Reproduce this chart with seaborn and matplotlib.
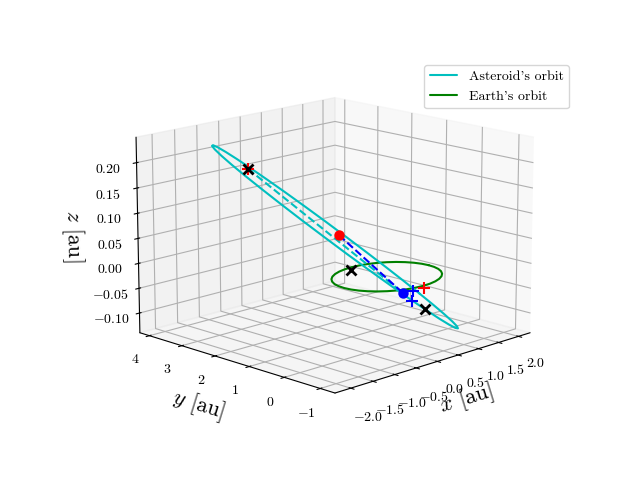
import seaborn as sns
import matplotlib.pyplot as plt

# Orbits (au)
ast_x = [2.05, 2.019, 1.926, 1.775, 1.57, 1.318, 1.025, 0.701, 0.356, 0.0, -0.356, -0.701, -1.025, -1.318, -1.57, -1.775, -1.926, -2.019, -2.05,
         -2.019, -1.926, -1.775, -1.57, -1.318, -1.025, -0.701, -0.356, 0.0, 0.356, 0.701, 1.025, 1.318, 1.57, 1.775, 1.926, 2.019, 2.05]
ast_y = [1.45, 1.888, 2.312, 2.71, 3.07, 3.38, 3.632, 3.818, 3.932, 3.97, 3.932, 3.818, 3.632, 3.38, 3.07, 2.71, 2.312, 1.888, 1.45,
         1.012, 0.588, 0.19, -0.17, -0.48, -0.732, -0.918, -1.032, -1.07, -1.032, -0.918, -0.732, -0.48, -0.17, 0.19, 0.588, 1.012, 1.45]
ast_z = [-0.1085, -0.0892, -0.0656, -0.0385, -0.0086, 0.0231, 0.0557, 0.0882, 0.1195, 0.1488, 0.1752, 0.1978, 0.216, 0.2292, 0.237, 0.2392, 0.2356, 0.2265, 0.2121,
         0.1929, 0.1693, 0.1421, 0.1123, 0.0805, 0.048, 0.0155, -0.0159, -0.0452, -0.0716, -0.0942, -0.1124, -0.1255, -0.1333, -0.1355, -0.132, -0.1229, -0.1085]

earth_x = [1.0, 0.985, 0.94, 0.866, 0.766, 0.643, 0.5, 0.342, 0.174, 0.0, -0.174, -0.342, -0.5, -0.643, -0.766, -0.866, -0.94, -0.985, -1.0,
           -0.985, -0.94, -0.866, -0.766, -0.643, -0.5, -0.342, -0.174, 0.0, 0.174, 0.342, 0.5, 0.643, 0.766, 0.866, 0.94, 0.985, 1.0]
earth_y = [0.0, 0.174, 0.342, 0.5, 0.643, 0.766, 0.866, 0.94, 0.985, 1.0, 0.985, 0.94, 0.866, 0.766, 0.643, 0.5, 0.342, 0.174, 0.0,
           -0.174, -0.342, -0.5, -0.643, -0.766, -0.866, -0.94, -0.985, -1.0, -0.985, -0.94, -0.866, -0.766, -0.643, -0.5, -0.342, -0.174, 0.0]
earth_z = [0.0] * 37

# Marked positions (au)
black_x = [-0.334, -0.134, -0.069]
black_y = [3.634, 0.857, -1.131]
black_z = [0.16, 0.0, -0.041]
red_plus_x = [-0.334, -0.086]
red_plus_y = [3.634, -1.119]
red_plus_z = [0.16, 0.0]
blue_plus_x = [0.196, -0.048]
blue_plus_y = [-0.496, -0.752]
blue_plus_z = [-0.024, -0.033]
red_dot = [-0.254, 1.054, 0.068]
blue_dot = [-0.542, -1.076, 0.0]

x_ticks = [-2.0, -1.5, -1.0, -0.5, 0.0, 0.5, 1.0, 1.5, 2.0]
y_ticks = [-1, 0, 1, 2, 3, 4]
z_ticks = [-0.10, -0.05, 0.0, 0.05, 0.10, 0.15, 0.20]

sns.set_style('white')
plt.rcParams['font.family'] = ['cmr10', 'DejaVu Serif']
plt.rcParams['mathtext.fontset'] = 'cm'
plt.rcParams['axes.formatter.use_mathtext'] = True
plt.rcParams['axes.unicode_minus'] = True
plt.rcParams['grid.color'] = '#b0b0b0'
plt.rcParams['axes.edgecolor'] = 'k'
plt.rcParams['text.color'] = 'k'
plt.rcParams['axes.labelcolor'] = 'k'
plt.rcParams['xtick.color'] = 'k'
plt.rcParams['ytick.color'] = 'k'

fig = plt.figure(figsize=(6.4, 4.8), dpi=100)
ax = fig.add_subplot(projection='3d', computed_zorder=False)
pos = ax.get_position()
ax.set_position([pos.x0 + 2 / 640, pos.y0 + 1.5 / 480, pos.width, pos.height])

ax.plot(ast_x, ast_y, ast_z, color='c', label="Asteroid's orbit", zorder=3)
ax.plot(earth_x, earth_y, earth_z, color='g', label="Earth's orbit", zorder=2)

# Dashed connections
ax.plot([black_x[0], blue_dot[0]], [black_y[0], blue_dot[1]], [black_z[0], blue_dot[2]], color='c', ls='--', zorder=4)
ax.plot([red_dot[0], blue_dot[0]], [red_dot[1], blue_dot[1]], [red_dot[2], blue_dot[2]], color='b', ls='--', zorder=5)

# Markers
ax.plot(red_plus_x, red_plus_y, red_plus_z, 'r+', ms=8, mew=1.5, zorder=6)
ax.plot(blue_plus_x, blue_plus_y, blue_plus_z, 'b+', ms=8, mew=1.5, zorder=6)
ax.plot(black_x, black_y, black_z, 'kx', ms=7, mew=2, zorder=7)
ax.plot(*[[v] for v in red_dot], 'ro', ms=7.5, mew=0, zorder=8)
ax.plot(*[[v] for v in blue_dot], 'bo', ms=7.5, mew=0, zorder=8)

ax.set_xlim(-2.35, 2.3)
ax.set_ylim(-1.4, 4.3)
ax.set_zlim(-0.14, 0.25)
ax.set_xticks(x_ticks)
ax.set_yticks(y_ticks)
ax.set_zticks(z_ticks)
ax.set_xlabel('$x$ [au]', fontsize=16, labelpad=-1)
ax.set_ylabel('$y$ [au]', fontsize=16, labelpad=2)
ax.set_zlabel('$z$ [au]', fontsize=16, labelpad=2)
ax.tick_params(axis='y', pad=1.5)
ax.tick_params(axis='z', pad=2)
ax.set_proj_type('persp', focal_length=1.3)
ax.view_init(elev=14.5, azim=-135)
ax.set_box_aspect((4, 4, 2.9), zoom=1.163)
ax.legend(loc='upper right', bbox_to_anchor=(0.889, 0.865), bbox_transform=fig.transFigure,
          borderaxespad=0, fontsize=10)

fig.savefig('out.png', dpi=100)
